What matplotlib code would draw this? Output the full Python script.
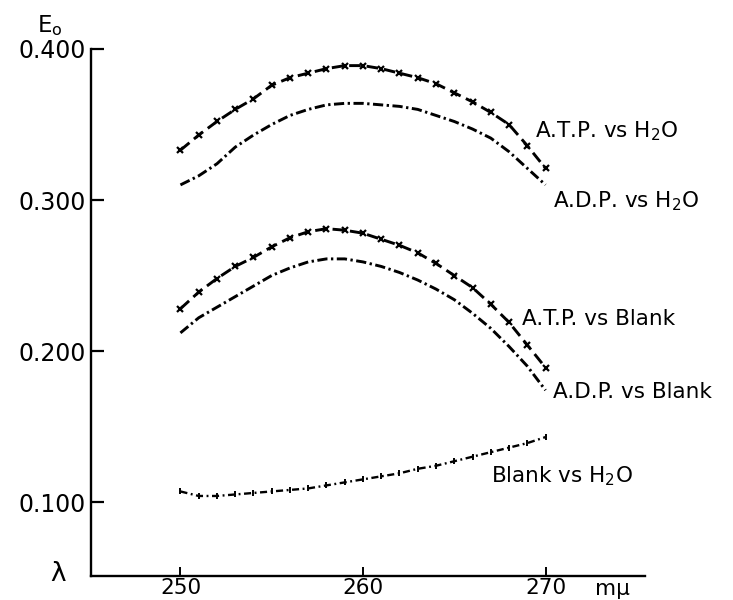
import matplotlib
matplotlib.use("Agg")
import matplotlib.pyplot as plt

plt.rcParams['font.family'] = ['DejaVu Sans']
plt.rcParams['mathtext.default'] = 'regular'

# wavelength in m-mu, one reading per unit
wavelength = [250, 251, 252, 253, 254, 255, 256, 257, 258, 259, 260,
              261, 262, 263, 264, 265, 266, 267, 268, 269, 270]

atp_vs_h2o = [0.333, 0.343, 0.352, 0.360, 0.367, 0.376, 0.381, 0.384, 0.387, 0.389, 0.389,
              0.387, 0.384, 0.381, 0.377, 0.371, 0.365, 0.358, 0.350, 0.336, 0.321]
adp_vs_h2o = [0.310, 0.316, 0.324, 0.335, 0.343, 0.350, 0.356, 0.360, 0.363, 0.364, 0.364,
              0.363, 0.362, 0.360, 0.356, 0.352, 0.347, 0.341, 0.332, 0.321, 0.310]
atp_vs_blank = [0.228, 0.239, 0.248, 0.256, 0.262, 0.269, 0.275, 0.279, 0.281, 0.280, 0.278,
                0.274, 0.270, 0.265, 0.258, 0.250, 0.242, 0.231, 0.219, 0.204, 0.189]
adp_vs_blank = [0.212, 0.222, 0.229, 0.236, 0.243, 0.250, 0.255, 0.259, 0.261, 0.261, 0.259,
                0.256, 0.252, 0.247, 0.241, 0.234, 0.225, 0.215, 0.203, 0.190, 0.174]
blank_vs_h2o = [0.107, 0.104, 0.104, 0.105, 0.106, 0.107, 0.108, 0.109, 0.111, 0.113, 0.115,
                0.117, 0.119, 0.122, 0.124, 0.127, 0.130, 0.133, 0.136, 0.139, 0.143]

yticks = [0.1, 0.2, 0.3, 0.4]
ytick_labels = ["0.100", "0.200", "0.300", "0.400"]
xticks = [250, 260, 270]

fig = plt.figure(figsize=(7.33, 6.0), dpi=100)
ax = fig.add_axes([91 / 733, 24 / 600, (645 - 91) / 733, (576 - 49) / 600])

dash_dot = (0, (3.5, 1.2, 0.8, 1.2))
ax.plot(wavelength, atp_vs_h2o, color='black', lw=2.1, linestyle=(0, (4, 2)),
        marker='x', markersize=5, markeredgewidth=1.6)
ax.plot(wavelength, adp_vs_h2o, color='black', lw=2.1, linestyle=dash_dot)
ax.plot(wavelength, atp_vs_blank, color='black', lw=2.1, linestyle=(0, (4, 2)),
        marker='x', markersize=5, markeredgewidth=1.6)
ax.plot(wavelength, adp_vs_blank, color='black', lw=2.1, linestyle=dash_dot)
ax.plot(wavelength, blank_vs_h2o, color='black', lw=1.7, linestyle=(0, (3, 1.5, 0.8, 1.5)),
        marker='|', markersize=5, markeredgewidth=1.4)

ax.set_xlim(245.1, 275.45)
ax.set_ylim(0.051, 0.400)
ax.set_xticks(xticks)
ax.set_yticks(yticks)
ax.set_yticklabels(ytick_labels)

for side in ['top', 'right']:
    ax.spines[side].set_visible(False)
for side in ['left', 'bottom']:
    ax.spines[side].set_linewidth(1.7)

ax.tick_params(axis='y', direction='in', length=9.5, width=1.6, pad=4, labelsize=17)
ax.tick_params(axis='x', direction='in', length=6.5, width=1.4, pad=1.5, labelsize=15.5)

# curve labels
lab = dict(fontsize=15.5, color='black', va='baseline')
ax.text(269.45, 0.3417, "A.T.P. vs H$_2$O", **lab)
ax.text(270.4, 0.2954, "A.D.P. vs H$_2$O", **lab)
ax.text(268.7, 0.2172, "A.T.P. vs Blank", **lab)
ax.text(270.4, 0.1689, "A.D.P. vs Blank", **lab)
ax.text(267.0, 0.1132, "Blank vs H$_2$O", **lab)

# axis names
fig.text(37 / 733, 1 - 32 / 600, "E$_o$", fontsize=16.5, va='baseline')
fig.text(58 / 733, 1 - 574 / 600, "λ", fontsize=19, ha='center', va='center')
fig.text(595 / 733, 1 - 595 / 600, "mμ", fontsize=15.5, va='baseline')

fig.savefig("out.png", dpi=100)
